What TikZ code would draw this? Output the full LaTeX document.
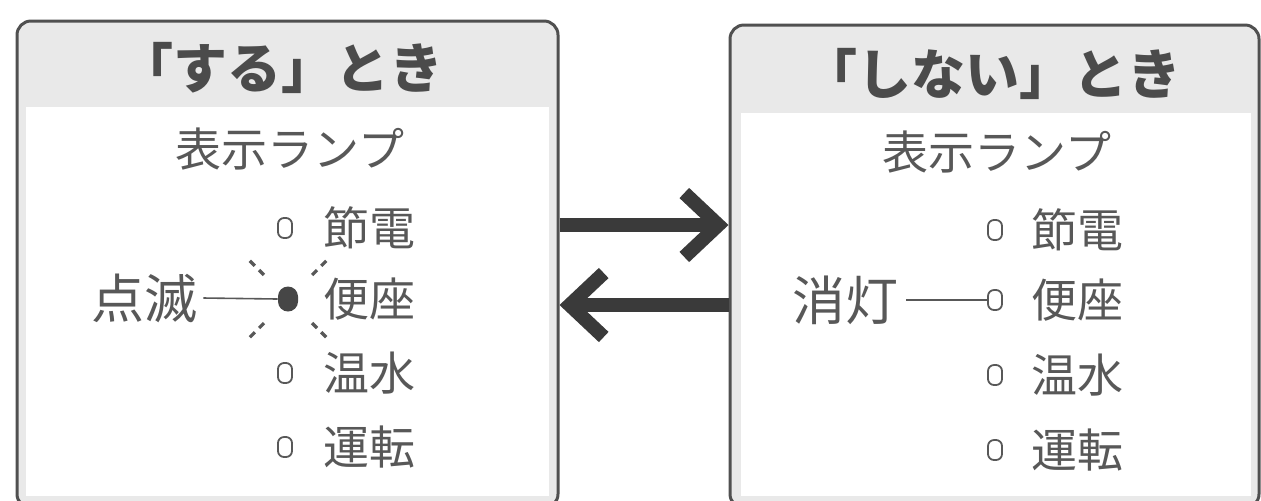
\documentclass[tikz,border=0pt]{standalone}
\usepackage{fontspec}
\newfontfamily\jpfont{Noto Sans CJK JP}
\usetikzlibrary{arrows.meta,positioning}
\definecolor{ink}{RGB}{88,88,88}
\definecolor{edge}{RGB}{80,80,80}
\definecolor{band}{RGB}{233,233,233}
\definecolor{arrowc}{RGB}{58,58,58}
\tikzset{panel/.style={draw=edge,line width=1.5pt,rounded corners=7pt,fill=band,inner sep=0pt},inner/.style={fill=white,inner sep=0pt},ttl/.style={font=\jpfont\bfseries\fontsize{27}{27}\selectfont,text=ink!85!black,inner sep=0pt},lbl/.style={font=\jpfont\fontsize{23}{23}\selectfont,text=ink,inner sep=0pt},big/.style={lbl,font=\jpfont\fontsize{26.5}{26.5}\selectfont},lamp/.style={draw=ink,line width=0.9pt,rounded corners=3pt,minimum width=7pt,minimum height=10pt,inner sep=0pt},lampon/.style={fill=ink!80!black,rounded corners=5pt,minimum width=10pt,minimum height=12.5pt,inner sep=0pt},flow/.style={-{Straight Barb[length=17pt,width=32pt]},line width=7pt,draw=arrowc},lead/.style={draw=ink,line width=0.8pt},ray/.style={draw=ink,line width=1.6pt,dash pattern=on 3.5pt off 3pt}}

\begin{document}
\begin{tikzpicture}[x=0.5pt,y=-0.5pt]
\useasboundingbox (0,0) rectangle (1261,500);
% two boxes
\node[panel,minimum width=270.5pt,minimum height=243.5pt] (lbox) at (287.5,264.5) {};
\node[inner,minimum width=261.5pt,minimum height=194.5pt] (lin) at (287.5,301.5) {};
\node[panel,minimum width=264.5pt,minimum height=241.5pt] (rbox) at (994.5,266.5) {};
\node[inner,minimum width=255pt,minimum height=191.5pt] (rin) at (996,304.5) {};
\node[ttl] (lhead) at (281,68) {「する」とき};
\node[ttl] (rhead) at (992,74) {「しない」とき};
\node[lbl] (llamps) at (290,149) {表示ランプ};
\node[lbl] (rlamps) at (997,152) {表示ランプ};
% left: flashing
\node[lamp] (l1) at (285,228) {};
\node[lampon] (l2) at (288,299) {};
\node[lamp] (l3) at (285,373) {};
\node[lamp] (l4) at (285,447) {};
\node[lbl,anchor=west] (lt1) at (323,228) {節電};
\node[lbl,anchor=west] (lt2) at (323,299) {便座};
\node[lbl,anchor=west] (lt3) at (323,373) {温水};
\node[lbl,anchor=west] (lt4) at (323,447) {運転};
\node[big] (blink) at (144,298) {点滅};
\draw[lead] (blink.east) ++(6,0) -- (l2.west);
\foreach \a in {45,135,225,315}
  \draw[ray] ([shift={(\a:34)}]l2.center) -- ([shift={(\a:58)}]l2.center);
% right: off
\node[lamp] (r1) at (995,230) {};
\node[lamp] (r2) at (995,300) {};
\node[lamp] (r3) at (995,375) {};
\node[lamp] (r4) at (995,450) {};
\node[lbl,anchor=west] (rt1) at (1031,230) {節電};
\node[lbl,anchor=west] (rt2) at (1031,300) {便座};
\node[lbl,anchor=west] (rt3) at (1031,375) {温水};
\node[lbl,anchor=west] (rt4) at (1031,450) {運転};
\node[big] (off) at (845,300) {消灯};
\draw[lead] (off.east) ++(8,0) -- (r2.west);
% arrows
\draw[flow] ([yshift=19.75pt]lbox.east) -- ([yshift=19.75pt]lbox.east -| rbox.west);
\draw[flow] ([yshift=-19.25pt]rbox.west) -- ([yshift=-19.25pt]rbox.west -| lbox.east);
\end{tikzpicture}
\end{document}
